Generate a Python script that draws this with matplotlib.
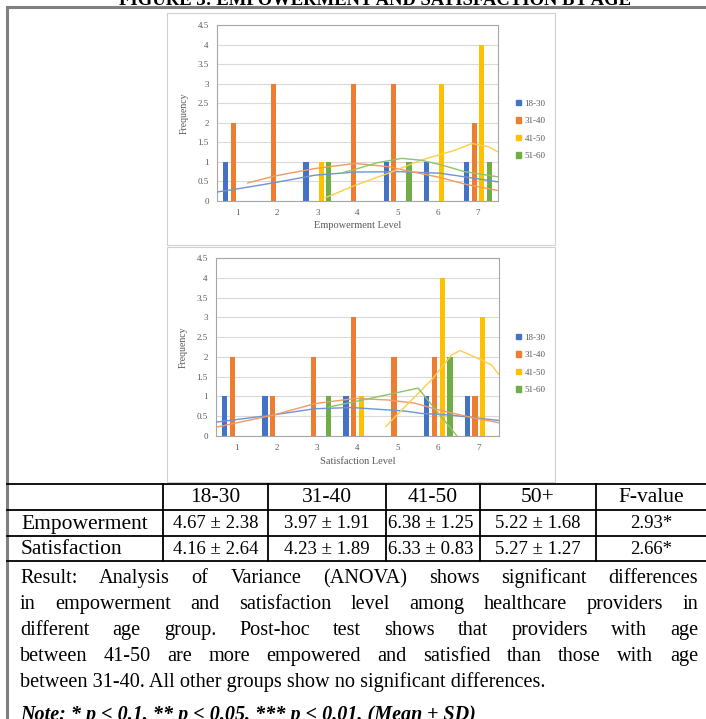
"""Figure 3 page crop: empowerment / satisfaction by age, charts plus ANOVA table."""

import matplotlib

matplotlib.use("Agg")
import matplotlib.pyplot as plt  # noqa: E402
from matplotlib.patches import Patch, Rectangle  # noqa: E402

W, H = 706, 719

LEVELS = [1, 2, 3, 4, 5, 6, 7]
GROUPS = ["18-30", "31-40", "41-50", "51-60"]
BAR_COLORS = ["#4472C4", "#ED7D31", "#FFC000", "#70AD47"]
LINE_COLORS = ["#6f93d6", "#f29a63", "#ffcd4a", "#8fc26d"]

# frequencies per empowerment level
emp_1830 = [1, 0, 1, 0, 1, 1, 1]
emp_3140 = [2, 3, 0, 3, 3, 0, 2]
emp_4150 = [0, 0, 1, 0, 0, 3, 4]
emp_5160 = [0, 0, 1, 0, 1, 0, 1]

# frequencies per satisfaction level
sat_1830 = [1, 1, 0, 1, 0, 1, 1]
sat_3140 = [2, 1, 2, 3, 2, 2, 1]
sat_4150 = [0, 0, 0, 1, 0, 4, 3]
sat_5160 = [0, 0, 1, 0, 0, 2, 0]

# fitted curves, points
emp_curve_1830_x = [0.5, 0.95, 1.94, 2.94, 3.94, 5.06, 6.06, 6.72, 7.49]
emp_curve_1830_y = [0.23, 0.30, 0.47, 0.66, 0.74, 0.75, 0.71, 0.61, 0.49]
emp_curve_3140_x = [1.26, 1.94, 2.94, 3.94, 4.85, 5.06, 6.06, 6.72, 7.49]
emp_curve_3140_y = [0.46, 0.64, 0.83, 0.96, 0.87, 0.81, 0.60, 0.42, 0.27]
emp_curve_4150_x = [3.19, 3.94, 4.77, 5.6, 6.43, 6.85, 7.26, 7.49]
emp_curve_4150_y = [0.08, 0.40, 0.71, 1.05, 1.30, 1.47, 1.39, 1.26]
emp_curve_5160_x = [3.61, 3.94, 4.5, 5.1, 5.6, 6.1, 6.67, 7.49]
emp_curve_5160_y = [0.72, 0.81, 0.98, 1.09, 1.04, 0.92, 0.75, 0.62]

sat_curve_1830_x = [0.5, 1.96, 2.95, 3.86, 5.17, 5.59, 6.29, 7.52]
sat_curve_1830_y = [0.35, 0.54, 0.69, 0.72, 0.63, 0.57, 0.53, 0.39]
sat_curve_3140_x = [0.5, 1.96, 2.95, 3.94, 4.76, 5.42, 6.0, 6.82, 7.52]
sat_curve_3140_y = [0.22, 0.54, 0.82, 0.95, 0.91, 0.83, 0.66, 0.47, 0.33]
sat_curve_4150_x = [4.70, 5.05, 5.87, 6.0, 6.33, 6.54, 7.07, 7.32, 7.50]
sat_curve_4150_y = [0.24, 0.61, 1.46, 1.63, 2.05, 2.16, 1.92, 1.79, 1.55]
sat_curve_5160_x = [3.28, 3.94, 5.5, 6.46, 6.6]
sat_curve_5160_y = [0.73, 0.87, 1.21, 0.0, -0.17]

# ANOVA table
table_cols = ["18-30", "31-40", "41-50", "50+", "F-value"]
row_labels = ["Empowerment", "Satisfaction"]
emp_row = ["4.67 \u00b1 2.38", "3.97 \u00b1 1.91", "6.38 \u00b1 1.25", "5.22 \u00b1 1.68", "2.93*"]
sat_row = ["4.16 \u00b1 2.64", "4.23 \u00b1 1.89", "6.33 \u00b1 0.83", "5.27 \u00b1 1.27", "2.66*"]

result_lines = [
    "Result: Analysis of Variance (ANOVA) shows significant differences",
    "in empowerment and satisfaction level among healthcare providers in",
    "different age group. Post-hoc test shows that providers with age",
    "between 41-50 are more empowered and satisfied than those with age",
    "between 31-40. All other groups show no significant differences.",
]
note_text = "Note: * p < 0.1, ** p < 0.05, *** p < 0.01, (Mean \u00b1 SD)"
title_text = "FIGURE 3: EMPOWERMENT AND SATISFACTION BY AGE"

SERIF = "Liberation Serif"
GRAY_TXT = "#595959"


def _fig_rect(x0, y0, x1, y1):
    return [x0 / W, 1 - y1 / H, (x1 - x0) / W, (y1 - y0) / H]


def _chart(fig, rect, series, curves, xlabel, legend_y):
    ax = fig.add_axes(_fig_rect(*rect))
    ax.set_zorder(2)
    step, width = 0.19, 0.13
    for i, (vals, color) in enumerate(zip(series, BAR_COLORS)):
        xs = [lv + (i - 1.5) * step for lv in LEVELS]
        ax.bar(xs, vals, width=width, color=color, linewidth=0, zorder=2)
    for (cx, cy), color in zip(curves, LINE_COLORS):
        ax.plot(cx, cy, color=color, linewidth=1.0, zorder=3, solid_capstyle="round")
    ax.set_xlim(0.5, 7.5)
    ax.set_ylim(0, 4.5)
    ax.set_xticks(LEVELS)
    ax.set_yticks([i * 0.5 for i in range(10)])
    ax.set_yticklabels(["0", "0.5", "1", "1.5", "2", "2.5", "3", "3.5", "4", "4.5"])
    ax.yaxis.grid(True, color="#d9d9d9", linewidth=0.8)
    ax.set_axisbelow(True)
    for side in ax.spines.values():
        side.set_color("#a6a6a6")
        side.set_linewidth(0.8)
    ax.tick_params(length=0, labelsize=6.5, colors=GRAY_TXT, labelfontfamily=SERIF)
    ax.tick_params(axis="x", pad=6)
    ax.tick_params(axis="y", pad=6)
    ax.set_xlabel(xlabel, fontsize=7.5, color=GRAY_TXT, family=SERIF, labelpad=3)
    ax.set_ylabel("Frequency", fontsize=7, color=GRAY_TXT, family=SERIF, labelpad=6)
    handles = [Patch(color=c, label=g) for c, g in zip(BAR_COLORS, GROUPS)]
    leg = ax.legend(
        handles=handles,
        loc="center left",
        bbox_to_anchor=(511 / W, 1 - legend_y / H),
        bbox_transform=fig.transFigure,
        frameon=False,
        prop={"family": SERIF, "size": 6.5},
        handlelength=0.6,
        handleheight=0.6,
        handletextpad=0.4,
        labelspacing=1.05,
        borderpad=0,
    )
    for t in leg.get_texts():
        t.set_color(GRAY_TXT)
    return ax


def _justify(page, renderer, text, left, right, y, size):
    words = text.split(" ")
    widths = []
    for w in words:
        t = page.text(0, 0, w, fontsize=size, family=SERIF)
        widths.append(t.get_window_extent(renderer).width)
        t.remove()
    gap = (right - left - sum(widths)) / (len(words) - 1)
    x = left
    for w, wd in zip(words, widths):
        page.text(x, y, w, fontsize=size, family=SERIF, ha="left", va="baseline")
        x += wd + gap


def main():
    fig = plt.figure(figsize=(W / 100, H / 100), dpi=100)
    page = fig.add_axes([0, 0, 1, 1])
    page.set_zorder(0)
    page.set_xlim(0, W)
    page.set_ylim(H, 0)
    page.axis("off")

    # title, cut by the top edge
    page.text(375, 5, title_text, fontsize=13.4, family=SERIF, weight="bold",
              ha="center", va="baseline")

    # outer box
    page.plot([7, 7], [7, H], color="#808080", linewidth=2.2)
    page.plot([7, W], [7, 7], color="#808080", linewidth=2.2)

    # chart image frames
    for y0, y1 in [(13, 245), (247, 482)]:
        page.add_patch(Rectangle((167, y0), 388, y1 - y0, facecolor="white",
                                 edgecolor="#d0d0d0", linewidth=0.8))

    emp_series = [emp_1830, emp_3140, emp_4150, emp_5160]
    emp_curves = [
        (emp_curve_1830_x, emp_curve_1830_y),
        (emp_curve_3140_x, emp_curve_3140_y),
        (emp_curve_4150_x, emp_curve_4150_y),
        (emp_curve_5160_x, emp_curve_5160_y),
    ]
    sat_series = [sat_1830, sat_3140, sat_4150, sat_5160]
    sat_curves = [
        (sat_curve_1830_x, sat_curve_1830_y),
        (sat_curve_3140_x, sat_curve_3140_y),
        (sat_curve_4150_x, sat_curve_4150_y),
        (sat_curve_5160_x, sat_curve_5160_y),
    ]
    _chart(fig, (217, 25, 498, 201), emp_series, emp_curves, "Empowerment Level", 130)
    _chart(fig, (216, 258, 499, 436), sat_series, sat_curves, "Satisfaction Level", 364)

    # table grid
    for y in [484, 510, 536, 561]:
        page.plot([7, W], [y, y], color="black", linewidth=1.3)
    for x in [163, 268, 386, 480, 596]:
        page.plot([x, x], [484, 561], color="black", linewidth=1.3)

    col_centers = [215.5, 327, 433, 538, 651]
    for cx, label in zip(col_centers, table_cols):
        page.text(cx, 498, label, fontsize=15.5, family=SERIF, ha="center", va="center")
    for row_y, label, vals in [(524, row_labels[0], emp_row), (549, row_labels[1], sat_row)]:
        page.text(21, row_y, label, fontsize=15.5, family=SERIF, ha="left", va="center")
        for i, (cx, v) in enumerate(zip(col_centers, vals)):
            if i == 2:
                page.text(388, row_y, v, fontsize=13.5, family=SERIF, ha="left", va="center")
            else:
                page.text(cx, row_y, v, fontsize=13.5, family=SERIF, ha="center", va="center")

    renderer = fig.canvas.get_renderer()
    baselines = [583, 609, 635, 661, 687]
    for i, (line, y) in enumerate(zip(result_lines, baselines)):
        if i < len(result_lines) - 1:
            _justify(page, renderer, line, 20, 698, y, 14.6)
        else:
            page.text(20, y, line, fontsize=14.6, family=SERIF, ha="left", va="baseline")
    page.text(20, 720, note_text, fontsize=14.5, family=SERIF, weight="bold",
              style="italic", ha="left", va="baseline")

    fig.savefig("out.png", dpi=100)
    plt.close(fig)


if __name__ == "__main__":
    main()
